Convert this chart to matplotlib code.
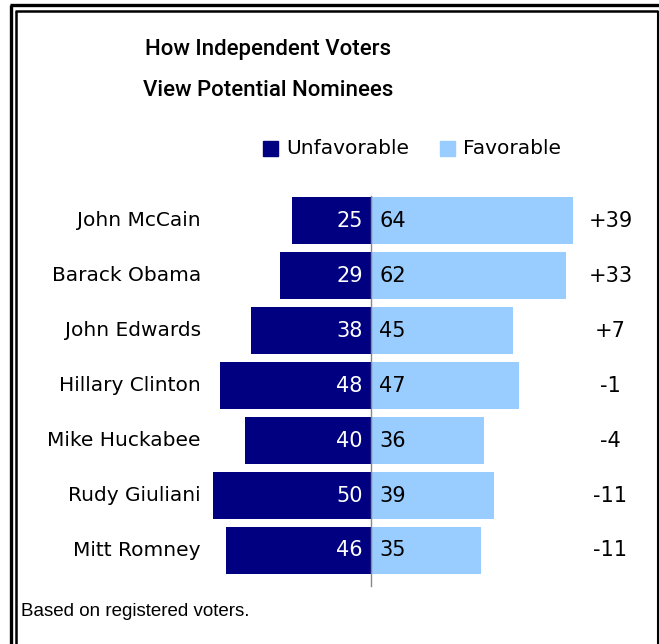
import matplotlib
matplotlib.use("Agg")
import matplotlib.pyplot as plt
from matplotlib.lines import Line2D

candidates = ["John McCain", "Barack Obama", "John Edwards", "Hillary Clinton",
              "Mike Huckabee", "Rudy Giuliani", "Mitt Romney"]
unfavorable = [25, 29, 38, 48, 40, 50, 46]
favorable = [64, 62, 45, 47, 36, 39, 35]
net = ["+39", "+33", "+7", "-1", "-4", "-11", "-11"]

DARK = "#000080"
LIGHT = "#99CCFF"
W, H = 659, 644
DPI = 100

fig = plt.figure(figsize=(W / DPI, H / DPI), dpi=DPI)
fig.patch.set_facecolor("white")

# axes spanning the whole canvas; data units map to pixels linearly
ax = fig.add_axes([0, 0, 1, 1])
ppu = 3.15          # pixels per percentage point
x0 = 371            # pixel position of the zero line
row0, pitch = 220.5, 55
ax.set_xlim(-x0 / ppu, (W - x0) / ppu)
ax.set_ylim((H - row0) / pitch, -row0 / pitch)
ax.axis("off")

ys = list(range(len(candidates)))
bh = 47 / pitch
ax.barh(ys, [-u for u in unfavorable], height=bh, color=DARK, linewidth=0)
ax.barh(ys, favorable, height=bh, color=LIGHT, linewidth=0)
ax.plot([0, 0], [-0.45, 6.65], color="#888888", lw=1.0)

name_fs = 14.5
num_fs = 15
for y, name, u, f, d in zip(ys, candidates, unfavorable, favorable, net):
    ax.text(-54, y, name, ha="right", va="center", fontsize=name_fs, color="black")
    ax.text(-2.6, y, str(u), ha="right", va="center", fontsize=num_fs, color="white")
    ax.text(2.6, y, str(f), ha="left", va="center", fontsize=num_fs, color="black")
    ax.text(76, y, d, ha="center", va="center", fontsize=num_fs, color="black")

# title, legend and note placed in pixel coordinates
def px(x, y):
    return x / W, 1 - y / H

title_font = dict(family=["Roboto", "Liberation Sans"], fontsize=16, fontweight=500,
                  ha="center", va="center")
fig.text(*px(268, 50), "How Independent Voters", **title_font)
fig.text(*px(268, 90), "View Potential Nominees", **title_font)

for sx, label, col in [(263, "Unfavorable", DARK), (440, "Favorable", LIGHT)]:
    fig.patches.append(plt.Rectangle(px(sx, 156), 15 / W, 15 / H,
                                     transform=fig.transFigure, color=col))
    fig.text(*px(sx + 23, 148), label, ha="left", va="center", fontsize=name_fs)

fig.text(*px(21, 612), "Based on registered voters.", ha="left", va="center",
         family="Liberation Sans", fontsize=13.5)

# double frame
def line(xs, ys_, lw):
    fig.add_artist(Line2D([x / W for x in xs], [1 - y / H for y in ys_],
                          transform=fig.transFigure, color="black", lw=lw,
                          solid_capstyle="butt"))

line([11, 11], [5, H], 2.4)
line([10, W], [5, 5], 2.4)
line([16, 16], [11, H], 1.8)
line([15, 658], [11, 11], 1.8)
line([658, 658], [11, H], 1.5)

fig.savefig("out.png", dpi=DPI, facecolor="white")
